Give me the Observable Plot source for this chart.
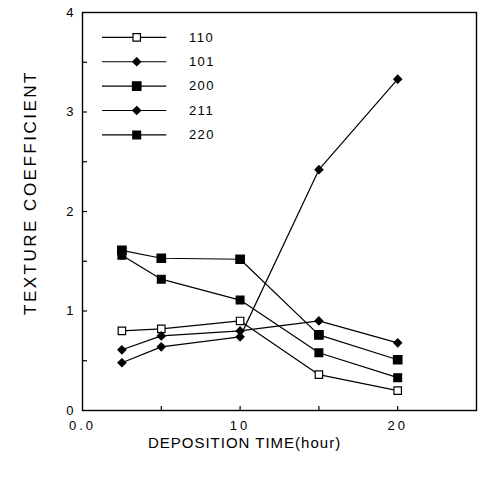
<!DOCTYPE html>
<html>
<head>
<meta charset="utf-8">
<script src="https://cdn.jsdelivr.net/npm/d3@7"></script>
<script src="https://cdn.jsdelivr.net/npm/@observablehq/plot@0.6"></script>
<style>
  html, body { margin: 0; padding: 0; background: #fff; }
  #chart svg { display: block; }
</style>
</head>
<body>
<div id="chart"></div>
<script>
// Deposition times (hours) at which texture coefficients were measured
const hours = [2.5, 5, 10, 15, 20];

// Texture coefficient of each reflection
const tc110 = [0.80, 0.82, 0.90, 0.36, 0.20];
const tc101 = [0.61, 0.75, 0.80, 0.90, 0.68];
const tc200 = [1.61, 1.53, 1.52, 0.76, 0.51];
const tc211 = [0.48, 0.64, 0.74, 2.42, 3.33];
const tc220 = [1.56, 1.32, 1.11, 0.58, 0.33];

const seriesNames = ["110", "101", "200", "211", "220"];
const seriesValues = [tc110, tc101, tc200, tc211, tc220];

// Axis ticks
const yLabelTicks = [0, 1, 2, 3, 4];
const yMinorTicks = [0.5, 1, 1.5, 2, 2.5, 3, 3.5];
const xLabelTicks = [0, 10, 20];
const xTickLabels = ["0.0", "10", "20"];
const xMinorTicks = [5, 10, 15, 20];

const yTitle = "TEXTURE COEFFICIENT";
const xTitle = "DEPOSITION TIME(hour)";

const symbols = {"110": "square", "101": "diamond2", "200": "square", "211": "diamond2", "220": "square"};
const radii = {"110": 4.2, "101": 3.6, "200": 4.8, "211": 3.6, "220": 4.4};
const fills = {"110": "white", "101": "black", "200": "black", "211": "black", "220": "black"};

const rows = seriesNames.flatMap((s, i) =>
  hours.map((h, j) => ({series: s, hour: h, tc: seriesValues[i][j]})));

// Legend rows laid out in the upper-left corner of the frame
const legend = seriesNames.map((s, i) => ({series: s, y: 3.75 - i * 0.245}));

const font = "'Liberation Sans', Arial, sans-serif";

const chart = Plot.plot({
  width: 481,
  height: 478,
  marginLeft: 82,
  marginRight: 5,
  marginTop: 12,
  marginBottom: 68,
  style: {fontFamily: font, background: "white", color: "black"},
  x: {domain: [0, 25]},
  y: {domain: [0, 4]},
  marks: [
    Plot.frame({stroke: "black", strokeWidth: 1.4}),
    // inward tick marks
    Plot.axisY(yMinorTicks, {anchor: "left", tickSize: 5, dx: 5, tickFormat: () => "", strokeWidth: 1.2, label: null}),
    Plot.axisX(xMinorTicks, {anchor: "bottom", tickSize: 4, dy: -4, tickFormat: () => "", strokeWidth: 1.2, label: null}),
    // tick labels
    Plot.axisY(yLabelTicks, {anchor: "left", tickSize: 0, tickPadding: 9, fontSize: 13, tickFormat: d3.format("d"), label: null}),
    Plot.text(xLabelTicks, {x: d => d, y: 0, text: (d, i) => xTickLabels[i], dy: 15, fontSize: 13, fill: "black", fontFamily: font}),
    // axis titles
    Plot.text([yTitle], {frameAnchor: "left", textAnchor: "middle", dx: -52, dy: -19, rotate: -90, fontSize: 17, fill: "black", fontFamily: font}),
    Plot.text([xTitle], {frameAnchor: "bottom", textAnchor: "middle", dx: -35, dy: 37, fontSize: 15, fill: "black", fontFamily: font}),
    // data
    Plot.line(rows, {x: "hour", y: "tc", z: "series", stroke: "black", strokeWidth: 1.2}),
    Plot.dot(rows, {x: "hour", y: "tc", symbol: d => symbols[d.series], r: d => radii[d.series], fill: d => fills[d.series], stroke: "black", strokeWidth: 1.2}),
    // legend
    Plot.ruleY(legend, {y: "y", x1: 1.27, x2: 5.35, stroke: "black", strokeWidth: 1.2}),
    Plot.dot(legend, {x: 3.44, y: "y", symbol: d => symbols[d.series], r: d => radii[d.series], fill: d => fills[d.series], stroke: "black", strokeWidth: 1.2}),
    Plot.text(legend, {x: 6.75, y: "y", text: "series", textAnchor: "start", fontSize: 13, fill: "black", fontFamily: font})
  ],
  r: {type: "identity"},
  symbol: {type: "identity"}
});

// Wide typewriter-like letter spacing for the printed labels
const spacing = new Map([[yTitle, 2.5], [xTitle, 1.0], ...xTickLabels.map(t => [t, 3]), ...seriesNames.map(t => [t, 1.5])]);
d3.select(chart).selectAll("text").each(function () {
  const s = spacing.get(this.textContent);
  if (s != null) this.setAttribute("letter-spacing", s);
});

document.getElementById("chart").append(chart);
</script>
</body>
</html>
